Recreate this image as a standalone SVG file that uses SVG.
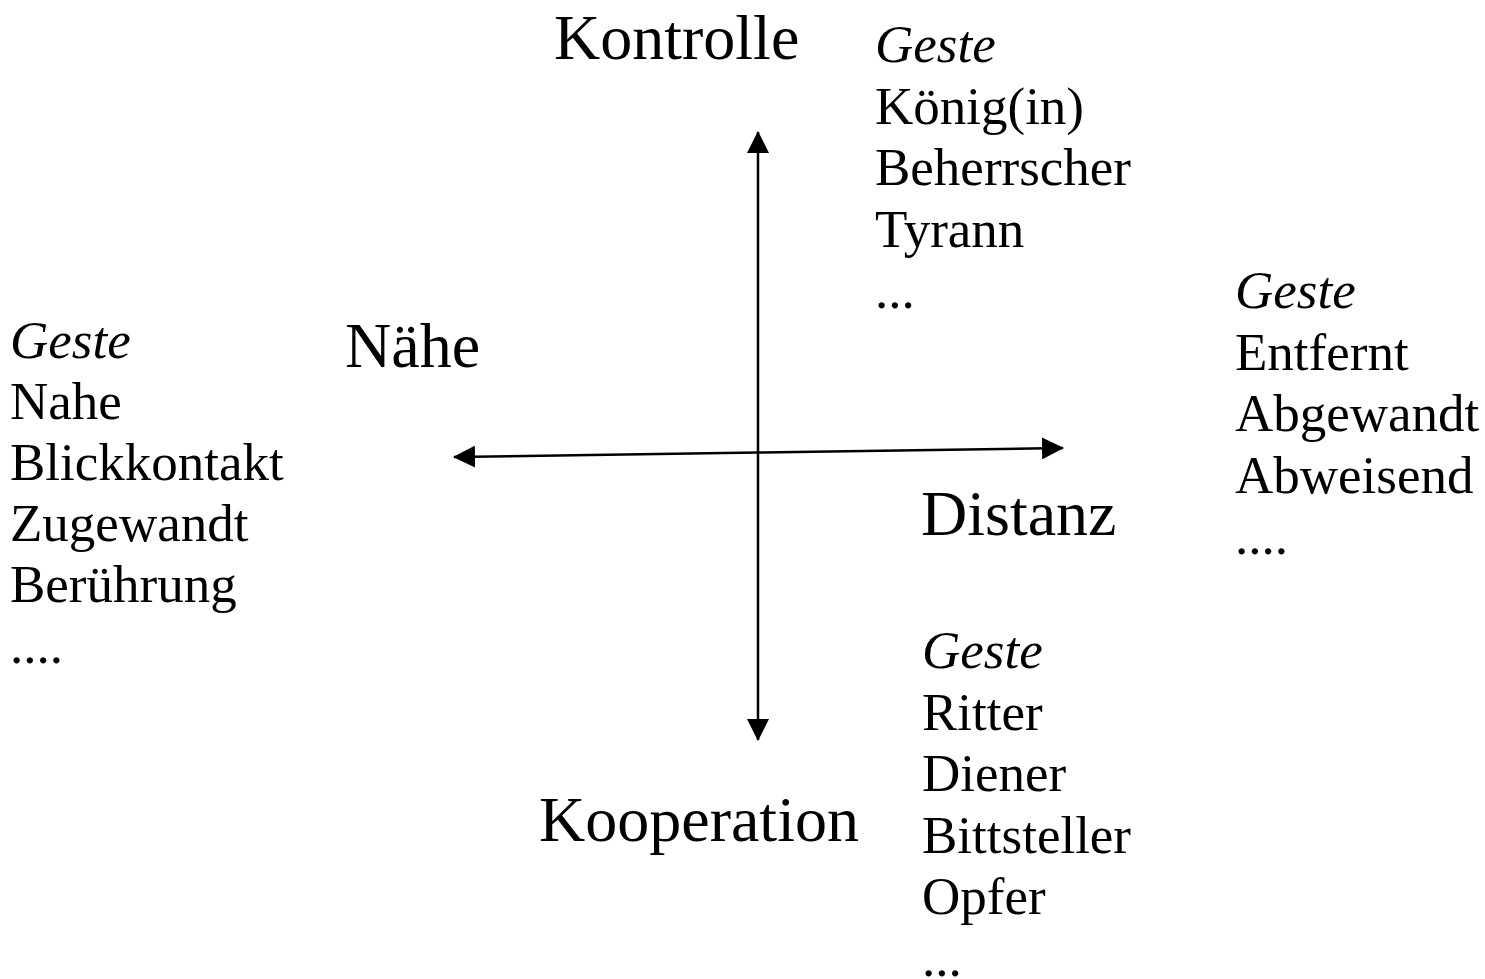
<svg xmlns="http://www.w3.org/2000/svg" width="1485" height="979" viewBox="0 0 1485 979">
<defs>
<marker id="ah" markerUnits="userSpaceOnUse" markerWidth="22" markerHeight="22" viewBox="0 0 22 22" refX="21" refY="11" orient="auto">
<path d="M0,0 L22,11 L0,22 Z" fill="#000"/>
</marker>
</defs>
<style>
text{font-family:"Liberation Serif","Times New Roman",serif;fill:#000}
.big{font-size:64px}
.sm{font-size:53px}
.it{font-style:italic}
.ax{stroke:#000;stroke-width:2.5;fill:none}
</style>
<rect width="1485" height="979" fill="#fff"/>
<g id="connectors">
<line class="ax" x1="758" y1="440" x2="758" y2="132" marker-end="url(#ah)"/>
<line class="ax" x1="758" y1="440" x2="758" y2="740" marker-end="url(#ah)"/>
<line class="ax" x1="758" y1="452.5" x2="454" y2="457" marker-end="url(#ah)"/>
<line class="ax" x1="758" y1="452.5" x2="1063" y2="448" marker-end="url(#ah)"/>
</g>
<g id="kontrolle"><text class="big" x="554" y="59">Kontrolle</text></g>
<g id="naehe"><text class="big" x="345" y="367">Nähe</text></g>
<g id="distanz"><text class="big" x="921" y="535">Distanz</text></g>
<g id="kooperation"><text class="big" x="539" y="841">Kooperation</text></g>
<g id="list-top">
<text class="sm it" x="875" y="62">Geste</text>
<text class="sm" x="875" y="123.5">König(in)</text>
<text class="sm" x="875" y="185">Beherrscher</text>
<text class="sm" x="875" y="246.5">Tyrann</text>
<text class="sm" x="875" y="308">...</text>
</g>
<g id="list-left">
<text class="sm it" x="10" y="358">Geste</text>
<text class="sm" x="10" y="419">Nahe</text>
<text class="sm" x="10" y="480">Blickkontakt</text>
<text class="sm" x="10" y="541">Zugewandt</text>
<text class="sm" x="10" y="602">Berührung</text>
<text class="sm" x="10" y="663">....</text>
</g>
<g id="list-right">
<text class="sm it" x="1235" y="308">Geste</text>
<text class="sm" x="1235" y="369.5">Entfernt</text>
<text class="sm" x="1235" y="431">Abgewandt</text>
<text class="sm" x="1235" y="492.5">Abweisend</text>
<text class="sm" x="1235" y="554">....</text>
</g>
<g id="list-bottom">
<text class="sm it" x="922" y="668">Geste</text>
<text class="sm" x="922" y="729.5">Ritter</text>
<text class="sm" x="922" y="791">Diener</text>
<text class="sm" x="922" y="852.5">Bittsteller</text>
<text class="sm" x="922" y="914">Opfer</text>
<text class="sm" x="922" y="975.5">...</text>
</g>
</svg>
